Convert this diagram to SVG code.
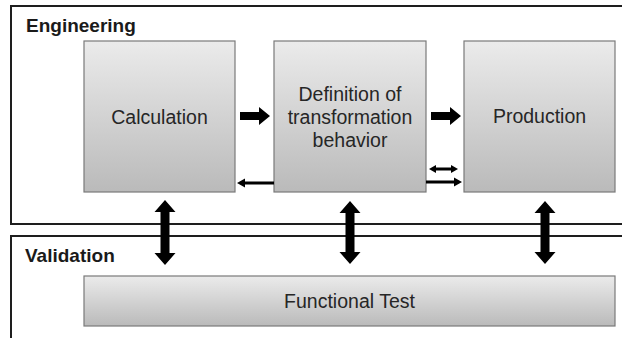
<svg xmlns="http://www.w3.org/2000/svg" width="622" height="338" viewBox="0 0 622 338">
  <defs>
    <linearGradient id="boxFill" x1="0" y1="0" x2="0" y2="1">
      <stop offset="0" stop-color="#ebebeb"/>
      <stop offset="1" stop-color="#bababa"/>
    </linearGradient>
    <style>
      .frame { fill: #ffffff; stroke: #1e1e1e; stroke-width: 2; }
      .frame-label { font-family: "Liberation Sans", Arial, sans-serif; font-weight: bold; font-size: 19px; fill: #1a1a1a; }
      .box { fill: url(#boxFill); stroke: #7a7a7a; stroke-width: 1.2; }
      .box-label { font-family: "Liberation Sans", Arial, sans-serif; font-size: 19.5px; fill: #262626; text-anchor: middle; }
      .arrow { fill: #000000; }
    </style>
  </defs>

  <rect width="622" height="338" fill="#ffffff"/>

  <!-- swimlane frames (open to the right and bottom) -->
  <g id="lane-engineering">
    <rect class="frame" x="11" y="6" width="700" height="218"/>
    <text class="frame-label" x="26" y="32">Engineering</text>
  </g>
  <g id="lane-validation">
    <rect class="frame" x="11" y="236" width="700" height="200"/>
    <text class="frame-label" x="25" y="262">Validation</text>
  </g>

  <!-- process steps -->
  <g id="node-calculation">
    <rect class="box" x="84" y="41" width="151" height="151"/>
    <text class="box-label" x="159.5" y="124">Calculation</text>
  </g>
  <g id="node-definition">
    <rect class="box" x="274" y="41" width="152" height="151"/>
    <text class="box-label" x="350" y="101">Definition of</text>
    <text class="box-label" x="350" y="124">transformation</text>
    <text class="box-label" x="350" y="147">behavior</text>
  </g>
  <g id="node-production">
    <rect class="box" x="464" y="41" width="151" height="151"/>
    <text class="box-label" x="539.5" y="123">Production</text>
  </g>
  <g id="node-functional-test">
    <rect class="box" x="84" y="276" width="531" height="50"/>
    <text class="box-label" x="349.5" y="308">Functional Test</text>
  </g>

  <!-- connectors -->
  <g id="connectors">
    <!-- main flow -->
    <polygon class="arrow" points="240,112 259,112 259,107 270,116 259,125 259,120 240,120"/>
    <polygon class="arrow" points="431,112 450,112 450,107 461,116 450,125 450,120 431,120"/>
    <!-- feedback from definition to calculation -->
    <polygon class="arrow" points="237,183 245,178.5 245,181.5 274,181.5 274,184.5 245,184.5 245,187.5"/>
    <!-- exchange between definition and production -->
    <polygon class="arrow" points="429,169 436,165 436,167.5 451,167.5 451,165 458,169 451,173 451,170.5 436,170.5 436,173"/>
    <polygon class="arrow" points="426,180.5 454,180.5 454,177.5 462,182 454,186.5 454,183.5 426,183.5"/>
    <!-- links between engineering and validation -->
    <polygon class="arrow" points="165,200 175.5,212 169.5,212 169.5,253 175.5,253 165,265 154.5,253 160.5,253 160.5,212 154.5,212"/>
    <polygon class="arrow" points="350,201 360.5,213 354.5,213 354.5,252 360.5,252 350,264 339.5,252 345.5,252 345.5,213 339.5,213"/>
    <polygon class="arrow" points="545,201 555.5,213 549.5,213 549.5,252 555.5,252 545,264 534.5,252 540.5,252 540.5,213 534.5,213"/>
  </g>
</svg>
